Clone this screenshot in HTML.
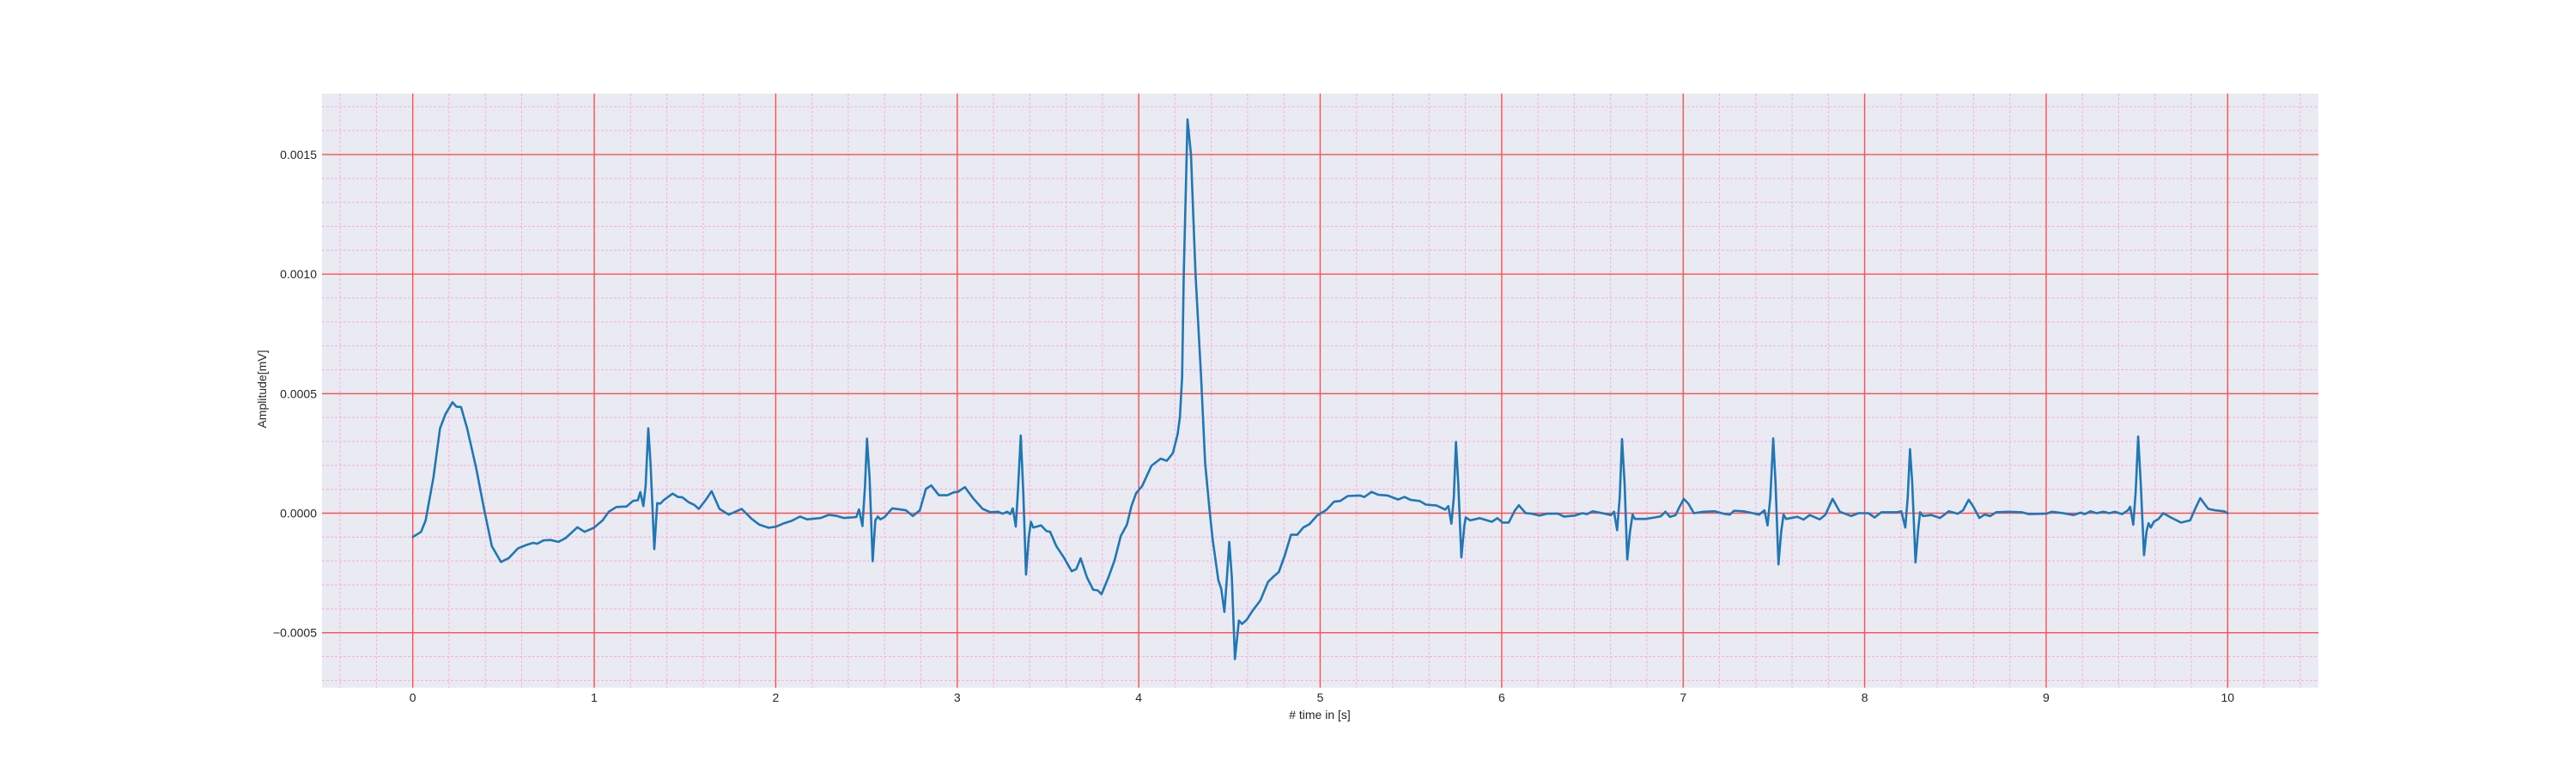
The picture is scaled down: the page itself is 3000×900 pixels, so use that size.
<!DOCTYPE html>
<html><head><meta charset="utf-8"><style>
html,body{margin:0;padding:0;background:#fff;}
svg{display:block;font-family:"Liberation Sans",sans-serif;}
</style></head><body>
<svg id="chart" width="3000" height="900" xmlns="http://www.w3.org/2000/svg">
<rect x="375" y="109" width="2325" height="691.7" fill="#eaeaf2"/>
<g id="grid"></g>
<g id="series"></g>
<g id="axes"></g>
<text x="1537" y="837" font-size="14" fill="#262626" text-anchor="middle"># time in [s]</text>
<text x="310" y="453" font-size="14" fill="#262626" text-anchor="middle" transform="rotate(-90 310 453)">Amplitude[mV]</text>
</svg>
<script>
const xTicks = [0,1,2,3,4,5,6,7,8,9,10];
const yTicks = [-0.0005,0,0.0005,0.0010,0.0015];
const yTickLabels = ["\u22120.0005","0.0000","0.0005","0.0010","0.0015"];
const times = [0,0.046,0.071,0.114,0.15,0.18,0.219,0.24,0.266,0.3,0.35,0.393,0.436,0.486,0.529,0.58,0.63,0.664,0.685,0.72,0.758,0.803,0.842,0.907,0.947,0.998,1.046,1.08,1.122,1.178,1.215,1.24,1.254,1.271,1.283,1.298,1.31,1.331,1.347,1.364,1.385,1.432,1.461,1.486,1.52,1.551,1.576,1.613,1.647,1.69,1.741,1.783,1.812,1.868,1.91,1.961,2.003,2.046,2.088,2.134,2.173,2.249,2.292,2.334,2.376,2.444,2.459,2.478,2.492,2.503,2.517,2.534,2.549,2.563,2.576,2.6,2.642,2.684,2.718,2.755,2.794,2.828,2.857,2.899,2.946,2.98,3.005,3.042,3.09,3.14,3.183,3.225,3.25,3.276,3.292,3.306,3.323,3.335,3.35,3.364,3.379,3.394,3.406,3.419,3.462,3.492,3.512,3.546,3.588,3.631,3.656,3.68,3.715,3.749,3.774,3.795,3.833,3.867,3.901,3.935,3.96,3.986,4.019,4.07,4.121,4.155,4.188,4.214,4.227,4.239,4.248,4.269,4.288,4.313,4.344,4.366,4.391,4.408,4.439,4.455,4.472,4.486,4.499,4.513,4.53,4.552,4.569,4.594,4.628,4.67,4.713,4.746,4.772,4.806,4.839,4.873,4.907,4.941,4.983,5.034,5.076,5.11,5.152,5.218,5.244,5.283,5.32,5.371,5.43,5.464,5.497,5.548,5.582,5.641,5.689,5.706,5.723,5.736,5.748,5.761,5.778,5.794,5.802,5.827,5.878,5.946,5.976,6.005,6.039,6.073,6.095,6.132,6.166,6.208,6.25,6.31,6.343,6.403,6.445,6.47,6.501,6.555,6.602,6.619,6.636,6.65,6.663,6.677,6.692,6.707,6.721,6.733,6.792,6.843,6.877,6.902,6.927,6.958,6.978,7.003,7.029,7.059,7.113,7.173,7.223,7.257,7.28,7.333,7.384,7.418,7.448,7.465,7.48,7.496,7.509,7.525,7.54,7.553,7.567,7.629,7.663,7.697,7.752,7.784,7.823,7.863,7.926,7.965,8.021,8.055,8.092,8.179,8.202,8.224,8.237,8.25,8.262,8.28,8.294,8.305,8.321,8.368,8.415,8.463,8.513,8.542,8.573,8.597,8.632,8.66,8.692,8.724,8.795,8.866,8.905,9.0,9.032,9.095,9.15,9.19,9.213,9.245,9.277,9.316,9.348,9.379,9.419,9.45,9.463,9.48,9.493,9.507,9.521,9.539,9.553,9.564,9.577,9.593,9.619,9.645,9.687,9.743,9.793,9.822,9.849,9.893,9.932,9.98,10.0];
const amplitudeE4 = [-1.0,-0.78,-0.3,1.5,3.54,4.14,4.64,4.46,4.44,3.54,1.86,0.18,-1.38,-2.04,-1.88,-1.47,-1.32,-1.24,-1.28,-1.14,-1.12,-1.2,-1.04,-0.59,-0.78,-0.61,-0.3,0.06,0.26,0.28,0.52,0.54,0.88,0.3,1.14,3.55,2.1,-1.5,0.42,0.4,0.56,0.82,0.68,0.66,0.46,0.35,0.18,0.54,0.92,0.18,-0.06,0.08,0.18,-0.24,-0.48,-0.61,-0.56,-0.42,-0.32,-0.14,-0.26,-0.2,-0.07,-0.11,-0.2,-0.16,0.16,-0.54,1.14,3.12,1.5,-2.01,-0.3,-0.14,-0.26,-0.16,0.2,0.16,0.12,-0.12,0.12,1.02,1.16,0.75,0.75,0.87,0.9,1.09,0.6,0.18,0.04,0.06,-0.02,0.06,-0.04,0.2,-0.56,1.02,3.25,0.9,-2.57,-1.02,-0.36,-0.6,-0.51,-0.75,-0.78,-1.38,-1.86,-2.43,-2.34,-1.89,-2.69,-3.2,-3.23,-3.39,-2.69,-1.98,-0.96,-0.48,0.3,0.84,1.14,1.98,2.28,2.19,2.51,3.29,4.01,5.69,10.0,16.47,15.0,10.0,5.69,2.1,0.06,-1.14,-2.81,-3.17,-4.13,-2.69,-1.2,-2.69,-6.1,-4.49,-4.63,-4.47,-4.07,-3.65,-2.87,-2.63,-2.46,-1.74,-0.9,-0.9,-0.6,-0.46,-0.1,0.14,0.48,0.51,0.72,0.74,0.68,0.89,0.77,0.74,0.57,0.68,0.56,0.51,0.36,0.32,0.15,0.3,-0.44,0.65,2.98,1.25,-1.85,-0.54,-0.18,-0.3,-0.21,-0.36,-0.21,-0.39,-0.39,0.12,0.33,0,-0.02,-0.1,-0.02,-0.02,-0.14,-0.1,0,-0.04,0.08,0,-0.08,0.06,-0.71,0.65,3.1,1.25,-1.94,-0.77,-0.06,-0.24,-0.24,-0.18,-0.13,0.06,-0.15,-0.08,0.24,0.6,0.39,0,0.06,0.08,-0.02,-0.06,0.1,0.08,0,-0.06,0.12,-0.51,0.65,3.13,1.25,-2.14,-0.77,-0.06,-0.24,-0.15,-0.27,-0.08,-0.26,-0.06,0.6,0.06,-0.12,0,0,-0.18,0.04,0.04,0.08,-0.6,0.65,2.68,1.25,-2.06,-0.77,0.04,-0.12,-0.08,-0.2,0.08,-0.02,0.12,0.56,0.3,-0.2,-0.06,-0.12,0.04,0.06,0.04,-0.04,-0.02,0.06,0,-0.08,0.02,-0.04,0.08,0,0.06,0,0.06,-0.04,0.12,0.27,-0.48,0.89,3.21,1.25,-1.76,-0.77,-0.42,-0.6,-0.36,-0.24,0,-0.18,-0.39,-0.3,0.2,0.63,0.18,0.12,0.08,0];

const NS="http://www.w3.org/2000/svg";
const L=375,R=2700,T=109,B=800.7;
const XMIN=-0.5,XMAX=10.5,YMIN=-0.00073,YMAX=0.001755;
function xs(t){return L+(t-XMIN)/(XMAX-XMIN)*(R-L);}
function ys(v){return B-(v-YMIN)/(YMAX-YMIN)*(B-T);}
function mk(tag,parent){const e=document.createElementNS(NS,tag);parent.appendChild(e);return e;}
const grid=document.getElementById('grid'),axes=document.getElementById('axes'),series=document.getElementById('series');
// minor grid
for(let i=-4;i<=104;i+=2){
  if(i%10===0) continue;
  const t=i/10;
  const ln=mk('line',grid);
  
  
  ln.setAttribute('x1',xs(t));ln.setAttribute('x2',xs(t));ln.setAttribute('y1',T);ln.setAttribute('y2',B);
  ln.setAttribute('stroke','#f2b0e2');ln.setAttribute('stroke-width','1');ln.setAttribute('stroke-dasharray','3,2');
}
for(let i=-7;i<=17;i++){
  if(i%5===0) continue;
  const v=i*0.0001;
  const ln=mk('line',grid);
  
  
  ln.setAttribute('x1',L);ln.setAttribute('x2',R);ln.setAttribute('y1',ys(v));ln.setAttribute('y2',ys(v));
  ln.setAttribute('stroke','#f2b0e2');ln.setAttribute('stroke-width','1');ln.setAttribute('stroke-dasharray','3,2');
}
xTicks.forEach(t=>{
  const ln=mk('line',grid);
  
  
  ln.setAttribute('x1',xs(t));ln.setAttribute('x2',xs(t));ln.setAttribute('y1',T);ln.setAttribute('y2',B);
  ln.setAttribute('stroke','#ff5050');ln.setAttribute('stroke-width','1.4');
  const tx=mk('text',axes);
  
  
  tx.setAttribute('x',xs(t));tx.setAttribute('y',817);tx.setAttribute('font-size','14');tx.setAttribute('fill','#262626');tx.setAttribute('text-anchor','middle');
  tx.textContent=String(t);
});
yTicks.forEach((v,i)=>{
  const ln=mk('line',grid);
  
  
  ln.setAttribute('x1',L);ln.setAttribute('x2',R);ln.setAttribute('y1',ys(v));ln.setAttribute('y2',ys(v));
  ln.setAttribute('stroke','#ff5050');ln.setAttribute('stroke-width','1.4');
  const tx=mk('text',axes);
  
  
  tx.setAttribute('x',369);tx.setAttribute('y',ys(v)+5);tx.setAttribute('font-size','14');tx.setAttribute('fill','#262626');tx.setAttribute('text-anchor','end');
  tx.textContent=yTickLabels[i];
});
const pts=times.map((t,i)=>xs(t).toFixed(1)+','+ys(amplitudeE4[i]*1e-4).toFixed(1)).join(' ');
const pl=mk('polyline',series);


pl.setAttribute('points',pts);pl.setAttribute('fill','none');pl.setAttribute('stroke','#1f77b4');
pl.setAttribute('stroke-width','2.6');pl.setAttribute('stroke-linejoin','round');pl.setAttribute('stroke-linecap','round');
</script>
</body></html>
